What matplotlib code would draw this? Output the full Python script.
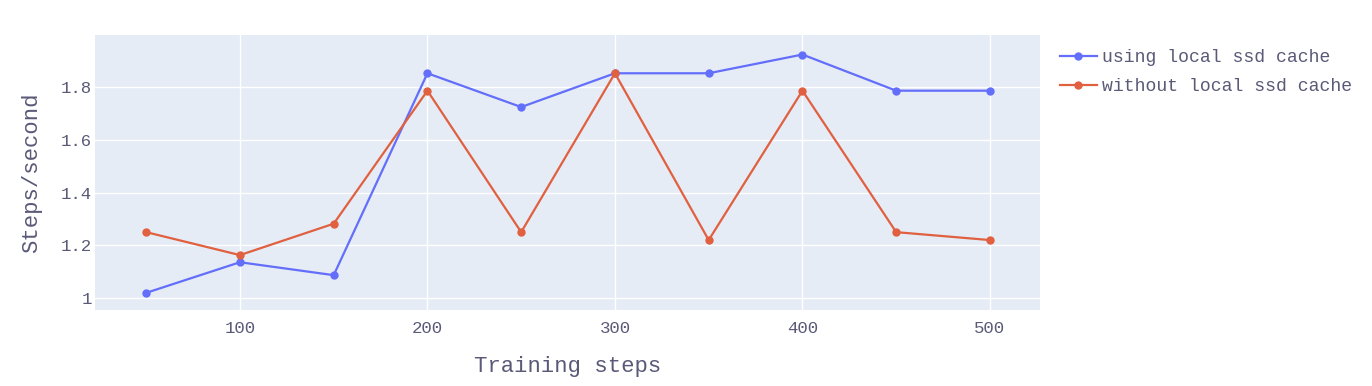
import matplotlib.pyplot as plt

steps = [50, 100, 150, 200, 250, 300, 350, 400, 450, 500]
with_cache = [1.02, 1.136, 1.087, 1.852, 1.724, 1.852, 1.852, 1.923, 1.786, 1.786]
without_cache = [1.25, 1.163, 1.282, 1.786, 1.25, 1.852, 1.22, 1.786, 1.25, 1.22]
y_ticks = [1, 1.2, 1.4, 1.6, 1.8]
y_labels = ['1', '1.2', '1.4', '1.6', '1.8']
x_ticks = [100, 200, 300, 400, 500]

txt = '#5a5a78'
plt.rcParams['font.family'] = ['Liberation Mono', 'DejaVu Sans Mono']

fig = plt.figure(figsize=(13.72, 3.86), dpi=100)
ax = fig.add_axes([95 / 1372, 1 - 310 / 386, 945 / 1372, 275 / 386])
ax.set_facecolor('#E5ECF6')

ax.plot(steps, with_cache, color='#636EFA', lw=1.6, marker='o', ms=5,
        label='using local ssd cache')
ax.plot(steps, without_cache, color='#E0603F', lw=1.6, marker='o', ms=5,
        label='without local ssd cache')

ax.set_xlim(22.7, 526.7)
ax.set_ylim(0.955, 1.997)
ax.set_xticks(x_ticks)
ax.set_yticks(y_ticks)
ax.set_yticklabels(y_labels)
ax.grid(True, color='white', lw=1)
ax.set_axisbelow(True)
for s in ax.spines.values():
    s.set_visible(False)
ax.tick_params(axis='x', length=0, labelsize=12.5, colors=txt, pad=8)
ax.tick_params(axis='y', length=0, labelsize=12.5, colors=txt, pad=2)

ax.set_xlabel('Training steps', fontsize=16, color=txt, labelpad=14)
ax.set_ylabel('Steps/second', fontsize=16, color=txt, labelpad=14)

ax.legend(loc='upper left', bbox_to_anchor=(1.008, 0.995), frameon=False,
          fontsize=13.1, labelcolor=txt, handlelength=2.0, handletextpad=0.3,
          borderaxespad=0.3, labelspacing=0.65)

fig.savefig('out.png', dpi=100)
